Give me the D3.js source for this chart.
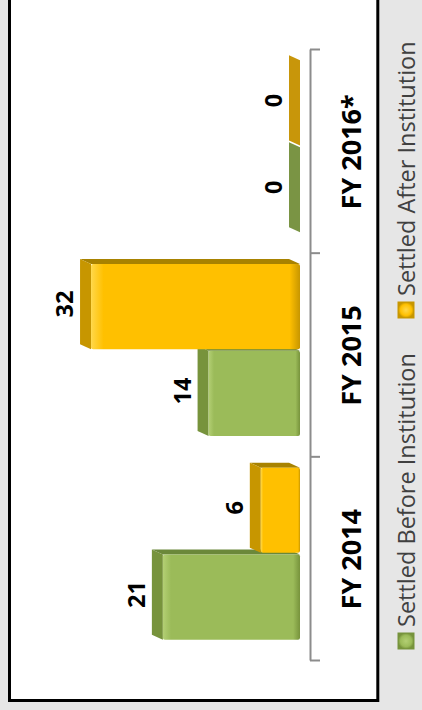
<!DOCTYPE html>
<html>
<head>
<meta charset="utf-8">
<script src="https://cdn.jsdelivr.net/npm/d3@7"></script>
<style>
  body { margin: 0; background: #e6e6e6; }
  svg { display: block; }
</style>
</head>
<body>
<div id="chart"></div>
<script>
// Chart data
var categories = ["FY 2014", "FY 2015", "FY 2016*"];
var seriesNames = ["Settled Before Institution", "Settled After Institution"];
var beforeValues = [21, 14, 0];
var afterValues = [6, 32, 0];

// Page size; the chart is drawn as a normal column chart then turned -90deg
var svgWidth = 422;
var svgHeight = 710;

var colors = {
  "Settled Before Institution": { front: "#9bbb59", light: "#b3cf74", top: "#77933c", side: "#6b883a", zero: "#7a9444" },
  "Settled After Institution": { front: "#ffc000", light: "#ffd84a", top: "#c79600", side: "#a88200", zero: "#c8960a" }
};

// depth offset of the 3D bars (in the unrotated frame)
var depth = { du: 5, dv: -11 };

var svg = d3.select("#chart")
  .append("svg")
  .attr("width", svgWidth)
  .attr("height", svgHeight);

// gradients for the bar fronts
var defs = svg.append("defs");
seriesNames.forEach(function(s, i) {
  var grad = defs.append("linearGradient")
    .attr("id", "front" + i)
    .attr("x1", 0).attr("y1", 0).attr("x2", 0).attr("y2", 1);
  grad.append("stop").attr("offset", "0%").attr("stop-color", colors[s].light);
  grad.append("stop").attr("offset", "6%").attr("stop-color", colors[s].front);
  grad.append("stop").attr("offset", "95%").attr("stop-color", colors[s].front);
  grad.append("stop").attr("offset", "100%").attr("stop-color", colors[s].top);

  var mk = defs.append("radialGradient").attr("id", "mark" + i);
  mk.append("stop").attr("offset", "0%").attr("stop-color", colors[s].light);
  mk.append("stop").attr("offset", "70%").attr("stop-color", colors[s].front);
  mk.append("stop").attr("offset", "100%").attr("stop-color", colors[s].top);
});

// white chart frame
svg.append("rect")
  .attr("x", 9.5)
  .attr("y", -10)
  .attr("width", 368.3)
  .attr("height", 710.5)
  .attr("fill", "#ffffff")
  .attr("stroke", "#000000")
  .attr("stroke-width", 3);

// rotated group: u runs up the page, v runs to the right
var g = svg.append("g")
  .attr("transform", `translate(0, ${svgHeight}) rotate(-90)`);

// Scales
var x0 = d3.scaleBand()
  .domain(categories)
  .range([49, 660]);

var x1 = d3.scaleBand()
  .domain(seriesNames)
  .range([x0.bandwidth() / 2 - 86 + 5.5, x0.bandwidth() / 2 + 86 + 5.5])
  .paddingInner(0.02);

var baseV = 300;
var y = d3.scaleLinear()
  .domain([0, 40])
  .range([baseV, baseV - 6.53 * 40]);

// Category axis (line with ticks between the groups)
var edgeScale = d3.scaleLinear()
  .domain([0, categories.length])
  .range(x0.range());

var axis = g.append("g")
  .attr("transform", "translate(0, 310)")
  .call(d3.axisBottom(edgeScale)
    .tickValues(d3.range(categories.length + 1))
    .tickSize(10)
    .tickSizeOuter(0)
    .tickFormat(""));
axis.select(".domain").attr("stroke", "#8c8c8c").attr("stroke-width", 2);
axis.selectAll(".tick line").attr("stroke", "#8c8c8c").attr("stroke-width", 2);

// Bar data
var barData = [];
categories.forEach(function(c, i) {
  barData.push({ cat: c, series: seriesNames[0], value: beforeValues[i], idx: 0 });
  barData.push({ cat: c, series: seriesNames[1], value: afterValues[i], idx: 1 });
});

var w = x1.bandwidth();

var bars = g.selectAll(".bar")
  .data(barData)
  .enter()
  .append("g")
  .attr("class", "bar");

// side face (page top)
bars.filter(d => d.value > 0)
  .append("polygon")
  .attr("points", function(d) {
    var u = x0(d.cat) + x1(d.series);
    var top = y(d.value);
    return [
      [u + w, top], [u + w + depth.du, top + depth.dv],
      [u + w + depth.du, baseV + depth.dv], [u + w, baseV]
    ].join(" ");
  })
  .attr("fill", d => colors[d.series].side);

// top face (page left)
bars.append("polygon")
  .attr("points", function(d) {
    var u = x0(d.cat) + x1(d.series);
    var top = y(d.value);
    return [
      [u, top], [u + depth.du, top + depth.dv],
      [u + w + depth.du, top + depth.dv], [u + w, top]
    ].join(" ");
  })
  .attr("fill", d => d.value > 0 ? colors[d.series].top : colors[d.series].zero);

// front face
bars.filter(d => d.value > 0)
  .append("rect")
  .attr("x", d => x0(d.cat) + x1(d.series))
  .attr("y", d => y(d.value))
  .attr("width", w)
  .attr("height", d => baseV - y(d.value))
  .attr("rx", 2)
  .attr("fill", d => `url(#front${d.idx})`);

// value labels
g.selectAll(".value-label")
  .data(barData)
  .enter()
  .append("text")
  .attr("class", "value-label")
  .attr("x", d => x0(d.cat) + x1(d.series) + w / 2 + 2.5)
  .attr("y", d => y(d.value) + depth.dv - 7)
  .attr("text-anchor", "middle")
  .attr("font-family", "'Open Sans', sans-serif")
  .attr("font-weight", "bold")
  .attr("font-size", "23.5px")
  .attr("fill", "#000000")
  .text(d => d.value);

// category labels
g.selectAll(".cat-label")
  .data(categories)
  .enter()
  .append("text")
  .attr("class", "cat-label")
  .attr("x", d => x0(d) + x0.bandwidth() / 2)
  .attr("y", 361)
  .attr("text-anchor", "middle")
  .attr("font-family", "'Open Sans', sans-serif")
  .attr("font-weight", "bold")
  .attr("font-size", "27px")
  .attr("fill", "#000000")
  .text(d => d);

// Legend
var legendStart = [61, 392];
var legend = g.selectAll(".legend")
  .data(seriesNames)
  .enter()
  .append("g")
  .attr("class", "legend")
  .attr("transform", (d, i) => `translate(${legendStart[i]}, 398)`);

legend.append("rect")
  .attr("width", 16)
  .attr("height", 16)
  .attr("fill", (d, i) => `url(#mark${i})`)
  .attr("stroke", d => colors[d].top)
  .attr("stroke-width", 1);

legend.append("text")
  .attr("x", 22)
  .attr("y", 17)
  .attr("font-family", "'Open Sans', sans-serif")
  .attr("font-size", "23.5px")
  .attr("fill", "#404040")
  .text(d => d);
</script>
</body>
</html>
